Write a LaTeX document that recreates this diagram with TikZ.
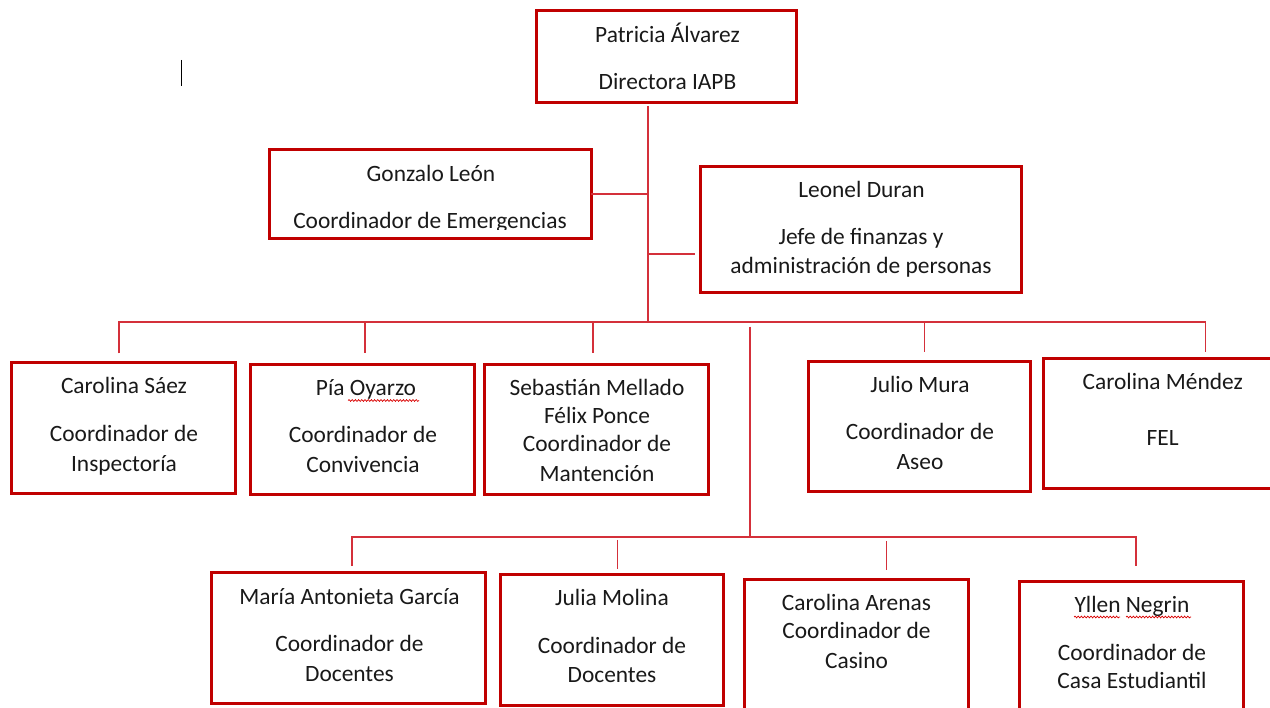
\documentclass[tikz,border=0pt]{standalone}
\usepackage{fontspec}
\setmainfont{Carlito}
\usetikzlibrary{decorations.pathmorphing}
\definecolor{boxred}{RGB}{192,0,0}
\definecolor{linered}{RGB}{212,48,58}
\definecolor{txtcol}{RGB}{25,25,25}
\tikzset{
  box/.style={draw=boxred, line width=3pt, rectangle, inner sep=0pt, outer sep=0pt},
  conn/.style={draw=linered, line width=1.4pt},
  txt/.style={anchor=base, inner sep=0pt, outer sep=0pt, text=txtcol,
    font=\fontsize{23.4}{28.7}\selectfont},
  spell/.style={draw=red!85!black, line width=0.7pt,
    decorate, decoration={snake, amplitude=0.9pt, segment length=3.2pt}}
}
\begin{document}
\begin{tikzpicture}[x=1pt,y=-1pt]
\useasboundingbox (0,0) rectangle (1270,708);
\clip (0,0) rectangle (1270,708);

% boxes
\node[box, minimum width=259.8pt, minimum height=91.3pt] (pat) at (666.6,56.65) {};
\node[box, minimum width=321.2pt, minimum height=89.7pt] (gon) at (430.4,194.15) {};
\node[box, minimum width=320.4pt, minimum height=126pt] (leo) at (860.8,229.7) {};
\node[box, minimum width=224.5pt, minimum height=131pt] (saez) at (123.25,428.2) {};
\node[box, minimum width=224.5pt, minimum height=130.7pt] (pia) at (362.45,429.65) {};
\node[box, minimum width=223.9pt, minimum height=130.7pt] (seb) at (596.85,429.65) {};
\node[box, minimum width=222.8pt, minimum height=130pt] (jul) at (919.4,426.3) {};
\node[box, minimum width=246pt, minimum height=130pt] (men) at (1166.95,423.3) {};
\node[box, minimum width=274.3pt, minimum height=130.6pt] (mar) at (348.55,638) {};
\node[box, minimum width=223.5pt, minimum height=130.7pt] (jmo) at (611.75,639.65) {};
\node[box, minimum width=223.3pt, minimum height=140.7pt] (are) at (856.35,649.65) {};
\node[box, minimum width=223.2pt, minimum height=139pt] (yll) at (1131.4,650.5) {};

% texts
\node[txt] (patA) at (667.5,43) {Patricia Álvarez};
\node[txt] (patB) at (667.5,90) {Directora IAPB};
\node[txt] (gonA) at (431,181.7) {Gonzalo León};
\begin{scope}
  \clip (272,150) rectangle (590,230);
  \node[txt] (gonB) at (430,229) {Coordinador de Emergencias};
\end{scope}
\node[txt] (leoA) at (861.5,198) {Leonel Duran};
\node[txt] (leoB) at (861,245) {Jefe de finanzas y};
\node[txt] (leoC) at (861,274) {administración de personas};
\node[txt] (saezA) at (124,394) {Carolina Sáez};
\node[txt] (saezB) at (124,441.7) {Coordinador de};
\node[txt] (saezC) at (124,471.7) {Inspectoría};
\node[txt] (piaA) at (366,396) {Pía Oyarzo};
\node[txt] (piaB) at (363,442.7) {Coordinador de};
\node[txt] (piaC) at (363,472.7) {Convivencia};
\node[txt] (sebA) at (597,395.7) {Sebastián Mellado};
\node[txt] (sebB) at (597,423.3) {Félix Ponce};
\node[txt] (sebC) at (597,452) {Coordinador de};
\node[txt] (sebD) at (597,481.7) {Mantención};
\node[txt] (julA) at (920,392.3) {Julio Mura};
\node[txt] (julB) at (920,440) {Coordinador de};
\node[txt] (julC) at (920,469.3) {Aseo};
\node[txt] (menA) at (1162.7,390) {Carolina Méndez};
\node[txt] (menB) at (1162.7,446) {FEL};
\node[txt] (marA) at (349.5,604.3) {María Antonieta García};
\node[txt] (marB) at (349.5,651) {Coordinador de};
\node[txt] (marC) at (349.5,681) {Docentes};
\node[txt] (jmoA) at (612,605.7) {Julia Molina};
\node[txt] (jmoB) at (612,653.3) {Coordinador de};
\node[txt] (jmoC) at (612,682.7) {Docentes};
\node[txt] (areA) at (856.5,610) {Carolina Arenas};
\node[txt] (areB) at (856.5,638.3) {Coordinador de};
\node[txt] (areC) at (856.5,668.3) {Casino};
\node[txt] (yllA) at (1132,612.7) {Yllen Negrin};
\node[txt] (yllB) at (1132,660) {Coordinador de};
\node[txt] (yllC) at (1132,688.3) {Casa Estudiantil};

% spelling marks
\draw[spell] (348,400.5) -- (419,400.5);
\draw[spell] (1074,617) -- (1120,617);
\draw[spell] (1126,617) -- (1191,617);

% text cursor
\draw[black, line width=1pt] (181,60) -- (181,86);

% connector coordinates
\coordinate (ttop) at (648,106);
\coordinate (tbot) at (648,322);
\coordinate (lend) at (694.5,254);
\coordinate (bus) at (0,322);
\coordinate (d1) at (118.8,353.3);
\coordinate (d2) at (364.9,353.3);
\coordinate (d3) at (593,353.3);
\coordinate (d4) at (924.7,352.3);
\coordinate (d5) at (1205.5,352);
\coordinate (vtop) at (750,326.7);
\coordinate (bus2) at (0,537);
\coordinate (e1) at (351.8,566);
\coordinate (e2) at (617.6,568.7);
\coordinate (e3) at (886.3,570);
\coordinate (e4) at (1136,566);

% connectors
\draw[conn] (ttop) -- (tbot);
\draw[conn] (gon.east) -- (gon.east -| ttop);
\draw[conn] (lend -| ttop) -- (lend);
\draw[conn] (d1) -- (d1 |- bus) -- (d5 |- bus) -- (d5);
\draw[conn] (d2 |- bus) -- (d2);
\draw[conn] (d3 |- bus) -- (d3);
\draw[conn] ([yshift=-0.7pt]d4 |- bus) -- (d4);
\draw[conn] (vtop) -- (vtop |- bus2);
\draw[conn] (e1) -- (e1 |- bus2) -- (e4 |- bus2) -- (e4);
\draw[conn] ([yshift=-3pt]e2 |- bus2) -- (e2);
\draw[conn] ([yshift=-4.3pt]e3 |- bus2) -- (e3);
\end{tikzpicture}
\end{document}
